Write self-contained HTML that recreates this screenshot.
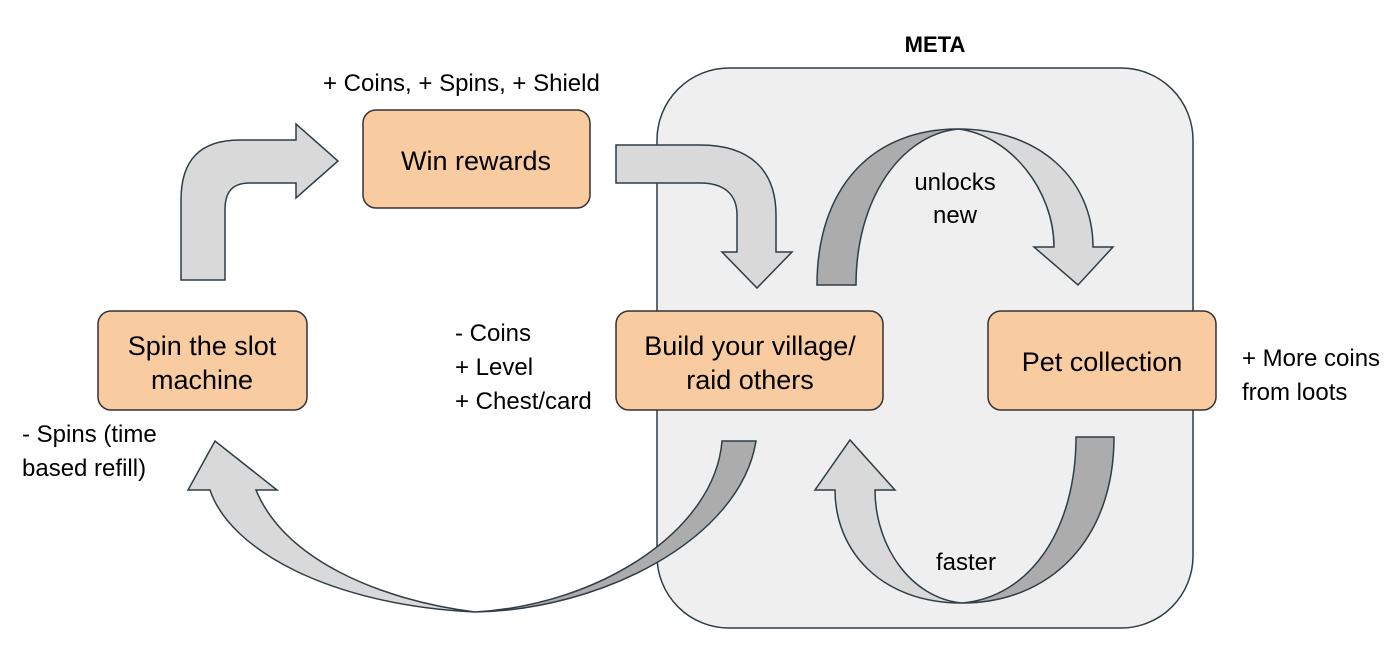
<!DOCTYPE html>
<html><head><style>
body{margin:0;background:#fff;}
svg text{font-family:"Liberation Sans",Arial,sans-serif;fill:#000;}
</style></head><body>
<svg width="1400" height="650" viewBox="0 0 1400 650" xmlns="http://www.w3.org/2000/svg">
<rect x="657" y="68" width="536" height="560" rx="72" fill="#efefef" stroke="#2f3d45" stroke-width="1.5"/>
<text x="935" y="52" font-size="22" font-weight="bold" text-anchor="middle">META</text>
<g stroke="#2f3d45" stroke-width="1.5" stroke-linejoin="miter">
<path d="M181,280 L181,200 C181,160 200,140 240,140 L296,140 L296,124 L338,161 L296,198 L296,183 L250,183 C232,183 225,192 225,210 L225,280 Z" fill="#d9d9d9"/>
<path d="M616,145 L700,145 C750,145 776,170 776,215 L776,252 L792,252 L757,288 L722,252 L737,252 L737,215 C737,195 725,183 700,183 L616,183 Z" fill="#d9d9d9"/>
<path d="M817,285 C817,190 870,129 958,129 C900,135 856,200 856,285 Z" fill="#acacac"/>
<path d="M958,129 C1040,129 1093,180 1093,247 L1113,247 L1078,285 L1034,247 L1054,247 C1054,190 1010,135 958,129 Z" fill="#d9d9d9"/>
<path d="M1114,437 C1114,540 1050,603 962,603 C1030,597 1076,530 1076,437 Z" fill="#acacac"/>
<path d="M962,603 C880,603 835,550 835,490 L815,490 L850,440 L895,490 L875,490 C875,545 910,598 962,603 Z" fill="#d9d9d9"/>
<path d="M756,441 C740,540 600,610 475,612 C600,605 715,530 722,441 Z" fill="#acacac"/>
<path d="M475,612 C330,605 230,550 210,490 L188,490 L215,441 L277,490 L256,490 C285,560 380,600 475,612 Z" fill="#d9d9d9"/>
</g>
<g fill="#f8cba0" stroke="#333" stroke-width="1.5">
<rect x="363" y="110" width="227" height="98" rx="13"/>
<rect x="98" y="311" width="209" height="99" rx="13"/>
<rect x="616" y="311" width="267" height="99" rx="13"/>
<rect x="988" y="311" width="228" height="99" rx="13"/>
</g>
<g font-size="27" text-anchor="middle">
<text x="476" y="170">Win rewards</text>
<text x="202" y="355">Spin the slot</text>
<text x="202" y="389">machine</text>
<text x="750" y="355">Build your village/</text>
<text x="750" y="389">raid others</text>
<text x="1102" y="371">Pet collection</text>
</g>
<g font-size="24">
<text x="323" y="91">+ Coins, + Spins, + Shield</text>
<text x="455" y="341">- Coins</text>
<text x="455" y="375">+ Level</text>
<text x="455" y="409">+ Chest/card</text>
<text x="22" y="442">- Spins (time</text>
<text x="22" y="476">based refill)</text>
<text x="1242" y="366">+ More coins</text>
<text x="1242" y="400">from loots</text>
<text x="955" y="190" text-anchor="middle">unlocks</text>
<text x="955" y="223" text-anchor="middle">new</text>
<text x="966" y="570" text-anchor="middle">faster</text>
</g>
</svg>
</body></html>
